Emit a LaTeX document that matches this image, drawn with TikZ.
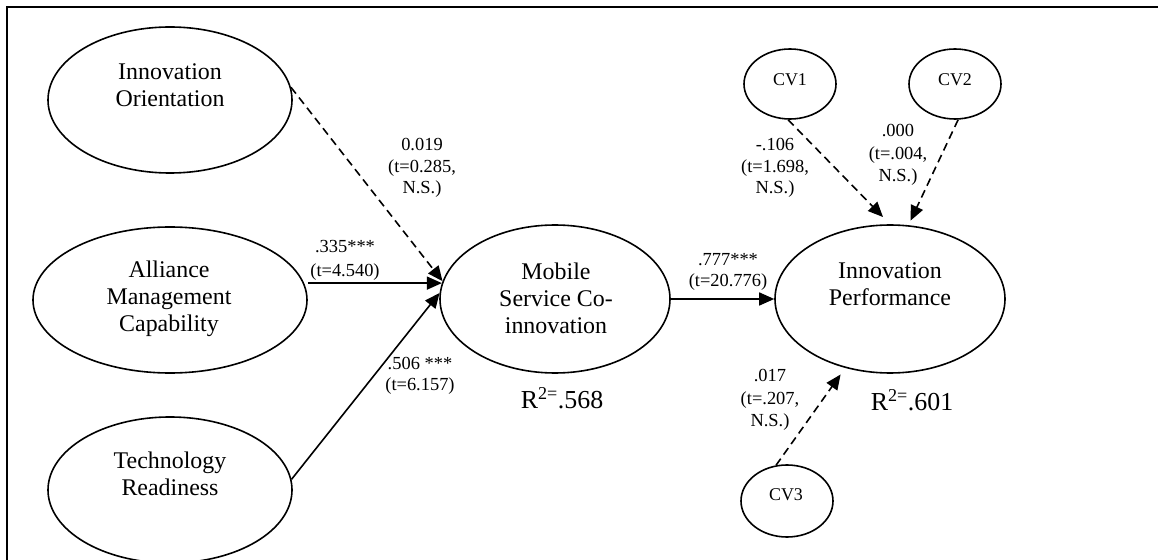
\documentclass[tikz,border=0pt]{standalone}
\usepackage{fontspec}
\setmainfont{Liberation Serif}
\usetikzlibrary{shapes.geometric,arrows.meta,calc}
\begin{document}
\begin{tikzpicture}[x=1bp,y=-1bp,
  lat/.style={ellipse,draw,line width=1.6bp,inner sep=0pt},
  big/.style={lat,minimum width=244bp,minimum height=146bp},
  mid/.style={lat,minimum width=230bp,minimum height=148bp},
  cv/.style={lat,minimum width=92bp,minimum height=70bp},
  ltext/.style={align=center,inner sep=0pt,font=\fontsize{24}{27}\selectfont},
  cvtext/.style={inner sep=0pt,font=\fontsize{18}{21}\selectfont},
  coef/.style={align=center,inner sep=0pt,font=\fontsize{18.5}{21.5}\selectfont},
  rsq/.style={inner sep=0pt,font=\fontsize{26}{30}\selectfont},
  path/.style={line width=1.6bp,-{Triangle[length=15bp,width=13bp]}},
  dpath/.style={path,dash pattern=on 8bp off 5bp},
  frame/.style={line width=2bp}
]
\useasboundingbox (0,0) rectangle (1158,560);
% frame
\coordinate (fTL) at (7,7);
\coordinate (fTR) at (1158,7);
\coordinate (fBL) at (7,560);
\draw[frame] (fBL) -- (fTL) -- (fTR);

% latent variables
\node[big] (io) at (170,100) {};
\node[lat,minimum width=274bp,minimum height=146bp] (am) at (170,300) {};
\node[big] (tr) at (170,490) {};
\node[mid] (ms) at (555,299) {};
\node[mid] (ip) at (890,299) {};
\node[cv] (cv1) at (790,84) {};
\node[cv] (cv2) at (955,84) {};
\node[cv,minimum height=72bp] (cv3) at (787,501) {};

% texts
\node[ltext] (tio) at (170,85) {Innovation\\Orientation};
\node[ltext] (tam) at (169,299) {Alliance\\Management\\Capability};
\node[ltext] (ttr) at (170,474) {Technology\\Readiness};
\node[ltext] (tms) at (556,298) {Mobile\\Service Co-\\innovation};
\node[ltext] (tip) at (890,284) {Innovation\\Performance};
\node[cvtext] (tcv1) at (790,80) {CV1};
\node[cvtext] (tcv2) at (955,80) {CV2};
\node[cvtext] (tcv3) at (786,495) {CV3};

% R squared
\node[rsq] (r1) at (562,398) {R\textsuperscript{2=}.568};
\node[rsq] (r2) at (912,400) {R\textsuperscript{2=}.601};

% paths
\draw[dpath] (io.6) -- (ms.171);
\draw[path] (ms.172.5 -| am.east) -- (ms.172.5);
\draw[path] (tr.5.6) -- (ms.177);
\draw[path] (ms.east) -- (ip.west);
\draw[dpath,shorten >=10bp] (cv1.-93) -- (ip.north);
\draw[dpath,shorten >=5bp] (cv2.-85) -- (ip.76);
\draw[dpath,shorten >=8bp] (cv3.107) -- (ip.-123);

% coefficients
\node[coef] (c1) at (422,168) {0.019\\(t=0.285,\\N.S.)};
\node[coef,font=\fontsize{18.5}{24}\selectfont] (c2) at (345,260) {.335***\\(t=4.540)};
\node[coef] (c3) at (420,376) {.506 ***\\(t=6.157)};
\node[coef] (c4) at (728,272) {.777***\\(t=20.776)};
\node[coef] (c5) at (775,168) {-.106\\(t=1.698,\\N.S.)};
\node[coef,font=\fontsize{18.5}{22.5}\selectfont] (c6) at (898,155) {.000\\(t=.004,\\N.S.)};
\node[coef,font=\fontsize{18.5}{22.5}\selectfont] (c7) at (770,400) {.017\\(t=.207,\\N.S.)};
\end{tikzpicture}
\end{document}
